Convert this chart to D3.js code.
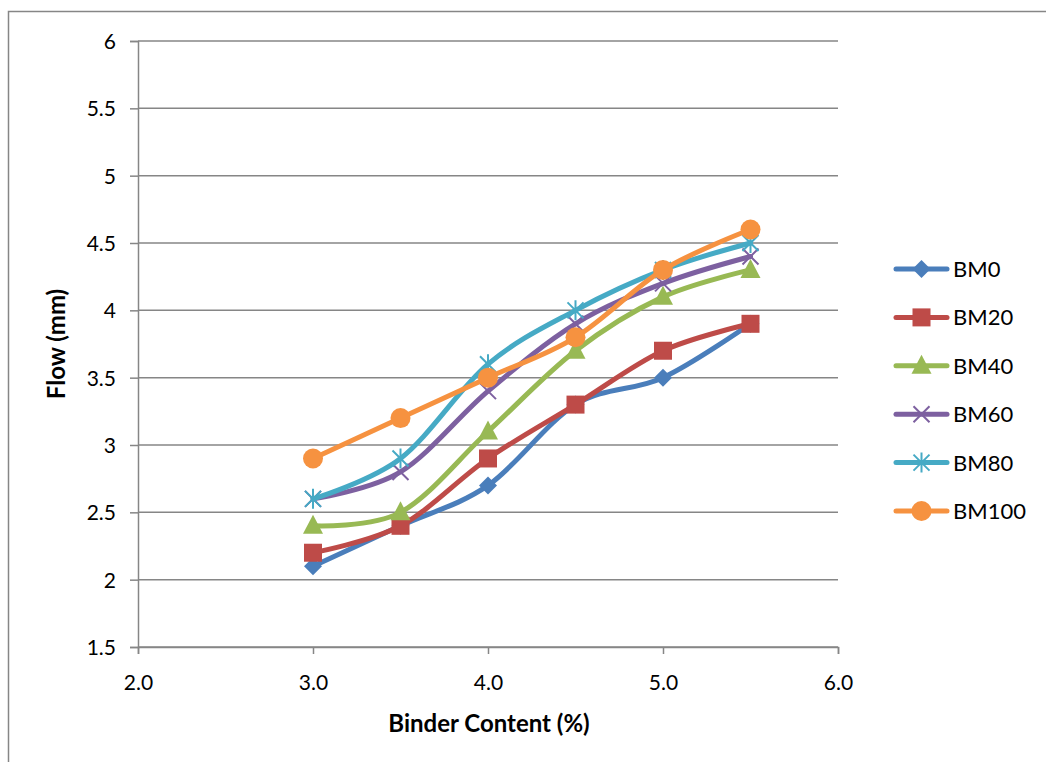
<!DOCTYPE html>
<html><head><meta charset="utf-8">
<script src="https://cdn.jsdelivr.net/npm/d3@7"></script>
<style>body{margin:0;background:#fff;} svg{display:block;}</style>
</head><body>
<svg id="c" width="1046" height="762"></svg>
<script>
const binder = [3.0, 3.5, 4.0, 4.5, 5.0, 5.5];
const seriesNames = ["BM0","BM20","BM40","BM60","BM80","BM100"];
const BM0   = [2.1, 2.4, 2.7, 3.3, 3.5, 3.9];
const BM20  = [2.2, 2.4, 2.9, 3.3, 3.7, 3.9];
const BM40  = [2.4, 2.5, 3.1, 3.7, 4.1, 4.3];
const BM60  = [2.6, 2.8, 3.4, 3.9, 4.2, 4.4];
const BM80  = [2.6, 2.9, 3.6, 4.0, 4.3, 4.5];
const BM100 = [2.9, 3.2, 3.5, 3.8, 4.3, 4.6];
const xTicks = [2.0, 3.0, 4.0, 5.0, 6.0];
const yTicks = [1.5, 2, 2.5, 3, 3.5, 4, 4.5, 5, 5.5, 6];

const values = [BM0, BM20, BM40, BM60, BM80, BM100];
const colors = ["#4A7EBB","#BE4B48","#98B954","#7D60A0","#46AAC5","#F69240"];
const markers = ["diamond","square","triangle","x","star","circle"];

const svg = d3.select("#c");
const font = "Lato, 'Open Sans', sans-serif";
const gray = "#868686";

// outer chart border
svg.append("path").attr("d","M8.5,762 V11.5 H1046").attr("fill","none").attr("stroke",gray).attr("stroke-width",1.5);

const x = d3.scaleLinear().domain([2,6]).range([138,838]);
const y = d3.scaleLinear().domain([1.5,6]).range([647,41]);

// gridlines
svg.append("g").selectAll("line").data(yTicks).join("line")
  .attr("x1",x(2)).attr("x2",x(6)).attr("y1",d=>y(d)).attr("y2",d=>y(d))
  .attr("stroke",gray).attr("stroke-width",1.5);

// y axis
const yAxis = svg.append("g").attr("transform",`translate(${x(2)},0)`)
  .call(d3.axisLeft(y).tickValues(yTicks).tickSize(8).tickPadding(14).tickFormat(d=>String(d)));
yAxis.select(".domain").attr("stroke",gray).attr("stroke-width",1.5);
yAxis.selectAll(".tick line").attr("stroke",gray).attr("stroke-width",1.5);
yAxis.selectAll("text").attr("font-family",font).attr("font-size",21).attr("fill","#000").attr("dy","0.36em");

// x axis
const xAxis = svg.append("g").attr("transform",`translate(0,${y(1.5)})`)
  .call(d3.axisBottom(x).tickValues(xTicks).tickSize(7).tickPadding(21).tickFormat(d3.format(".1f")));
xAxis.select(".domain").attr("stroke",gray).attr("stroke-width",1.5);
xAxis.selectAll(".tick line").attr("stroke",gray).attr("stroke-width",1.5);
xAxis.selectAll("text").attr("font-family",font).attr("font-size",21).attr("fill","#000");

// axis titles
svg.append("text").attr("x",489).attr("y",732).attr("text-anchor","middle")
  .attr("font-family",font).attr("font-weight","bold").attr("font-size",24).text("Binder Content (%)");
svg.append("text").attr("transform","translate(65,344) rotate(-90)").attr("text-anchor","middle")
  .attr("font-family",font).attr("font-weight","bold").attr("font-size",24).text("Flow (mm)");

function drawMarker(g, type, cx, cy, color){
  if(type==="diamond"){
    g.append("path").attr("d",`M${cx},${cy-9} L${cx+9},${cy} L${cx},${cy+9} L${cx-9},${cy} Z`).attr("fill",color);
  } else if(type==="square"){
    g.append("rect").attr("x",cx-9).attr("y",cy-9).attr("width",18).attr("height",18).attr("fill",color);
  } else if(type==="triangle"){
    g.append("path").attr("d",`M${cx},${cy-11} L${cx+10},${cy+8} L${cx-10},${cy+8} Z`).attr("fill",color);
  } else if(type==="x"){
    g.append("path").attr("d",`M${cx-8},${cy-8} L${cx+8},${cy+8} M${cx-8},${cy+8} L${cx+8},${cy-8}`).attr("stroke",color).attr("stroke-width",2);
  } else if(type==="star"){
    g.append("path").attr("d",`M${cx-8},${cy-8} L${cx+8},${cy+8} M${cx-8},${cy+8} L${cx+8},${cy-8} M${cx},${cy-10} L${cx},${cy+10}`).attr("stroke",color).attr("stroke-width",2);
  } else if(type==="circle"){
    g.append("circle").attr("cx",cx).attr("cy",cy).attr("r",10).attr("fill",color);
  }
}

const line = d3.line().x(d=>x(d[0])).y(d=>y(d[1])).curve(d3.curveCatmullRom.alpha(0));

values.forEach((vals,i)=>{
  const g = svg.append("g");
  const pts = binder.map((b,j)=>[b, vals[j]]);
  g.append("path").attr("d",line(pts)).attr("fill","none").attr("stroke",colors[i]).attr("stroke-width",5).attr("stroke-linecap","round");
  pts.forEach(p=>drawMarker(g, markers[i], x(p[0]), y(p[1]), colors[i]));
});

// legend
const legY = d3.scalePoint().domain(seriesNames).range([269,511]);
seriesNames.forEach((n,i)=>{
  const g = svg.append("g");
  const cy = legY(n);
  g.append("line").attr("x1",896).attr("x2",947).attr("y1",cy).attr("y2",cy).attr("stroke",colors[i]).attr("stroke-width",5).attr("stroke-linecap","round");
  drawMarker(g, markers[i], 921.5, cy, colors[i]);
  g.append("text").attr("x",953).attr("y",cy).attr("dy","0.36em").attr("font-family",font).attr("font-size",22).text(n);
});
</script>
</body></html>
